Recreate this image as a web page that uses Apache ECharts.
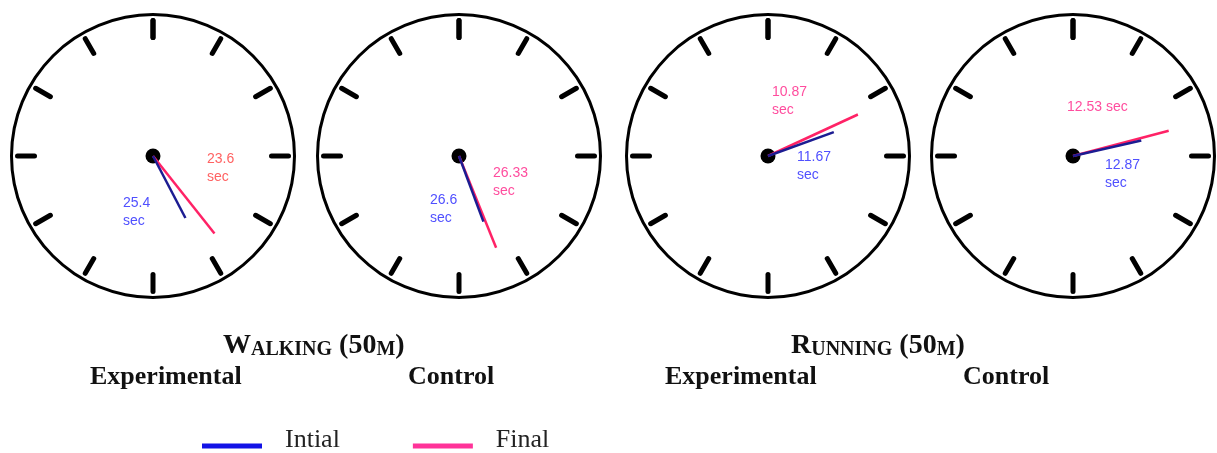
<!DOCTYPE html>
<html>
<head>
<meta charset="utf-8">
<script src="https://cdn.jsdelivr.net/npm/echarts@6/dist/echarts.min.js"></script>
<style>
html,body{margin:0;padding:0;background:#fff;}
#chart{width:1217px;height:453px;}
</style>
</head>
<body>
<div id="chart"></div>
<script>
// ---------- DATA ----------
const clockNames = ['Walking Experimental', 'Walking Control', 'Running Experimental', 'Running Control'];
const initialSec = [25.4, 26.6, 11.67, 12.87];
const finalSec = [23.6, 26.33, 10.87, 12.53];
const seriesNames = ['Intial', 'Final'];
const unitText = 'sec';
const groupTitles = ['Walking (50m)', 'Running (50m)'];
const subTitles = ['Experimental', 'Control', 'Experimental', 'Control'];
const dialMax = 60;          // seconds on the dial
const dialDivisions = 12;    // hour marks

// ---------- LAYOUT / STYLE ----------
const centersX = [153, 459, 768, 1073];
const centerY = 156;
const dialRadius = 143;
const initLen = 70, finalLen = 99;
const handColors = { init: '#1c1c92', fin: '#ff2266' };
const labelColors = { init: ['#5050ff', '#5050ff', '#5050ff', '#5050ff'], fin: ['#ff6262', '#ff4d9e', '#ff4d9e', '#ff4d9e'] };
// label placement: [x, y] offset of block centre from clock centre, and whether on one line
const initLabelPos = [[-12, 56], [-11, 53], [47, 10.5], [50, 18]];
const finLabelPos = [[72, 12], [52, 26], [22, -55], [29, -49]];
const finOneLine = [false, false, false, true];
const groupTitleLeft = [223, 791];
const subTitleLeft = [90, 408, 665, 963];
// legend swatch: a 60x5 bar drawn 6px below the text middle
const legendIcon = 'path://M0,0L0.01,0L0.01,0.01Z M0,12L60,12L60,17L0,17Z';

const sansFont = '"Liberation Sans", Arial, sans-serif';
const serifFont = '"Liberation Serif", "Times New Roman", serif';

function smallCaps(str) {
  // uppercase letters/digits/punct big, lowercase letters small caps
  let out = '', cur = null, buf = '';
  for (const ch of str) {
    const t = (ch >= 'a' && ch <= 'z') ? 's' : 'b';
    if (t !== cur && buf) { out += '{' + cur + '|' + buf + '}'; buf = ''; }
    cur = t; buf += ch.toUpperCase();
  }
  if (buf) out += '{' + cur + '|' + buf + '}';
  return out;
}

function baseGauge(i) {
  return {
    type: 'gauge',
    center: [centersX[i], centerY],
    radius: dialRadius,
    startAngle: 90,
    endAngle: -270,
    min: 0,
    max: dialMax,
    splitNumber: dialDivisions,
    animation: false,
    progress: { show: false },
    axisTick: { show: false },
    axisLabel: { show: false },
    title: { show: false }
  };
}

const series = [];
clockNames.forEach((name, i) => {
  // dial
  series.push(Object.assign(baseGauge(i), {
    name: name,
    z: 2,
    axisLine: { show: true, lineStyle: { width: 3, color: [[1, '#000']] } },
    splitLine: { show: true, distance: 4.5, length: 17, lineStyle: { width: 5, color: '#000', cap: 'round' } },
    pointer: { show: false },
    anchor: { show: true, size: 15, showAbove: false, itemStyle: { color: '#000', borderWidth: 0 } },
    detail: { show: false },
    data: [{ value: 0 }]
  }));
  // final hand
  series.push(Object.assign(baseGauge(i), {
    name: seriesNames[1],
    z: 3,
    axisLine: { show: false },
    splitLine: { show: false },
    anchor: { show: false },
    pointer: { show: true, icon: 'rect', length: finalLen, width: 2.5 },
    itemStyle: { color: handColors.fin },
    detail: {
      show: true,
      offsetCenter: finLabelPos[i],
      width: finOneLine[i] ? 70 : 36,
      padding: 0,
      formatter: v => finOneLine[i] ? '{a|' + v + ' ' + unitText + '}' : '{a|' + v + '}\n{a|' + unitText + '}',
      rich: { a: { width: finOneLine[i] ? 70 : 36, align: 'left', fontSize: 14, lineHeight: 18, fontFamily: sansFont, color: labelColors.fin[i] } },
      fontSize: 14, lineHeight: 18, fontWeight: 'normal', color: labelColors.fin[i], fontFamily: sansFont
    },
    data: [{ value: finalSec[i], name: clockNames[i] }]
  }));
  // initial hand
  series.push(Object.assign(baseGauge(i), {
    name: seriesNames[0],
    z: 4,
    axisLine: { show: false },
    splitLine: { show: false },
    anchor: { show: false },
    pointer: { show: true, icon: 'rect', length: initLen, width: 2.5 },
    itemStyle: { color: handColors.init },
    detail: {
      show: true,
      offsetCenter: initLabelPos[i],
      width: 36,
      padding: 0,
      formatter: v => '{a|' + v + '}\n{a|' + unitText + '}',
      rich: { a: { width: 36, align: 'left', fontSize: 14, lineHeight: 18, fontFamily: sansFont, color: labelColors.init[i] } },
      fontSize: 14, lineHeight: 18, fontWeight: 'normal', color: labelColors.init[i], fontFamily: sansFont
    },
    data: [{ value: initialSec[i], name: clockNames[i] }]
  }));
});

const titles = [];
groupTitles.forEach((t, g) => {
  titles.push({
    text: smallCaps(t),
    left: groupTitleLeft[g],
    top: 332,
    padding: 0,
    textStyle: {
      rich: {
        b: { fontFamily: serifFont, fontWeight: 'bold', fontSize: 28, lineHeight: 28, color: '#111', verticalAlign: 'bottom' },
        s: { fontFamily: serifFont, fontWeight: 'bold', fontSize: 20, lineHeight: 22, color: '#111', verticalAlign: 'bottom' }
      }
    }
  });
});
subTitles.forEach((t, k) => {
  titles.push({
    text: t,
    left: subTitleLeft[k],
    top: 364,
    padding: 0,
    textStyle: { fontFamily: serifFont, fontWeight: 'bold', fontSize: 26, lineHeight: 26, color: '#111' }
  });
});

const option = {
  backgroundColor: '#fff',
  animation: false,
  title: titles,
  legend: {
    left: 202,
    top: 427,
    padding: 0,
    itemWidth: 60,
    itemHeight: 17,
    itemGap: 73,
    icon: legendIcon,
    selectedMode: false,
    data: [
      { name: seriesNames[0], itemStyle: { color: '#1212e6' } },
      { name: seriesNames[1], itemStyle: { color: '#ff3399' } }
    ],
    textStyle: { fontFamily: serifFont, fontSize: 26, color: '#222', padding: [0, 0, 0, 18] }
  },
  series: series
};

const chart = echarts.init(document.getElementById('chart'), null, { renderer: 'canvas' });
chart.setOption(option);
</script>
</body>
</html>
